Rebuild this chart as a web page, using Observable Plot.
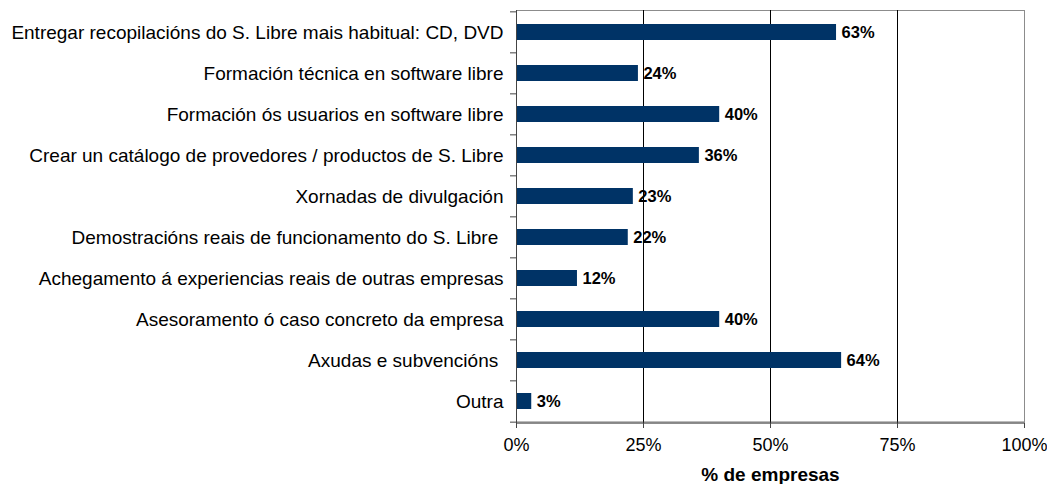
<!DOCTYPE html>
<html><head><meta charset="utf-8">
<script src="https://cdn.jsdelivr.net/npm/d3@7"></script>
<script src="https://cdn.jsdelivr.net/npm/@observablehq/plot@0.6"></script>
<style>body{margin:0;background:#fff;overflow:hidden} svg{display:block}</style>
</head><body><div id="chart"></div>
<script>
const categories = [
  "Entregar recopilacións do S. Libre mais habitual: CD, DVD",
  "Formación técnica en software libre",
  "Formación ós usuarios en software libre",
  "Crear un catálogo de provedores / productos de S. Libre",
  "Xornadas de divulgación",
  "Demostracións reais de funcionamento do S. Libre ",
  "Achegamento á experiencias reais de outras empresas",
  "Asesoramento ó caso concreto da empresa",
  "Axudas e subvencións ",
  "Outra"
];
const values = [63, 24, 40, 36, 23, 22, 12, 40, 64, 3];
const xTicks = [0, 25, 50, 75, 100];
const gridTicks = [25, 50, 75];
const axisTitle = "% de empresas";

const data = categories.map((c, i) => ({category: c, value: values[i]}));
const W = 1047, H = 484, mL = 516, mR = 23, mT = 10, mB = 61;
const step = (H - mT - mB) / categories.length;
const padIn = 0.6;

const chart = Plot.plot({
  width: W, height: H,
  marginLeft: mL, marginRight: mR, marginTop: mT, marginBottom: mB,
  style: {fontFamily: "'Liberation Sans', Arial, sans-serif", fontSize: "18px", color: "#000", background: "#fff"},
  x: {domain: [0, 100], label: null},
  y: {domain: categories, paddingInner: padIn, paddingOuter: padIn / 2, label: null},
  marks: [
    Plot.frame({stroke: "#8c8c8c"}),
    Plot.ruleX(gridTicks, {stroke: "#000", strokeWidth: 1}),
    Plot.barX(data, {x: "value", y: "category", fill: "#003366"}),
    Plot.text(data, {x: "value", y: "category", text: d => d.value + "%", dx: 5, textAnchor: "start", fontWeight: "bold", fontSize: 16.5, fill: "#000"}),
    Plot.ruleX([0], {stroke: "#444"}),
    Plot.ruleY(categories, {y: d => d, x1: 0, x2: 0, insetLeft: -6, dy: -step / 2, stroke: "#444"}),
    Plot.ruleY([categories[categories.length - 1]], {y: d => d, x1: 0, x2: 100, insetLeft: -6, dy: step / 2, stroke: "#444"}),
    Plot.axisY({tickSize: 0, tickPadding: 13, fontSize: 19, tickFormat: d => d.replace(/ $/, "\u00a0"), label: null}),
    Plot.axisX({ticks: xTicks, tickFormat: d => d + "%", tickSize: 5, tickPadding: 10, fontSize: 18, stroke: "#444", label: null}),
    Plot.text([axisTitle], {frameAnchor: "bottom", dy: 57, fontWeight: "bold", fontSize: 19, fill: "#000"})
  ]
});
document.getElementById("chart").appendChild(chart);
</script>
</body></html>
